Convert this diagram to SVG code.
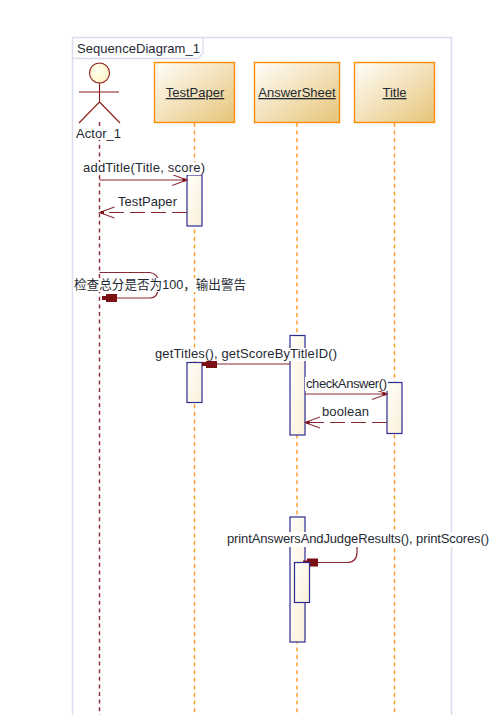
<svg xmlns="http://www.w3.org/2000/svg" width="503" height="715" viewBox="0 0 503 715">
<style>
text{font-family:"Liberation Sans","Noto Sans CJK SC",sans-serif;font-size:13px;fill:#1f2a33}
.obj{stroke:#ff8c00;stroke-width:1.4;fill:url(#objFill)}
.lbl{text-anchor:middle;text-decoration:underline}
.life{fill:none;stroke:#ff9a1f;stroke-width:1.4;stroke-dasharray:4 3.6}
.act{stroke:#2c2c96;stroke-width:1.2;fill:url(#actFill)}
.msg{fill:none;stroke:#8c2a33;stroke-width:1.2}
.ret{fill:none;stroke:#8c2a33;stroke-width:1.2;stroke-dasharray:15 6}
.actor{fill:none;stroke:#8b1a1a;stroke-width:1.1}
.bg{fill:#fff}
</style>
<defs>
<linearGradient id="objFill" x1="0" y1="0" x2="1" y2="1"><stop offset="0" stop-color="#fffefb"/><stop offset="1" stop-color="#e6c478"/></linearGradient>
<linearGradient id="actFill" x1="0" y1="0" x2="1" y2="1"><stop offset="0" stop-color="#fffefa"/><stop offset="1" stop-color="#fbf0d9"/></linearGradient>
<radialGradient id="headFill" cx="0.4" cy="0.35" r="0.7"><stop offset="0" stop-color="#fffff0"/><stop offset="1" stop-color="#fdf3c4"/></radialGradient>
<marker id="open" markerUnits="userSpaceOnUse" markerWidth="18" markerHeight="14" refX="15" refY="7" orient="auto"><path d="M0 1.500L15 7L0 12.500" fill="none" stroke="#8c2a33" stroke-width="1.1"/><rect x="10.500" y="5.500" width="3" height="3" fill="#7a0f14"/></marker>
<marker id="solid" markerUnits="userSpaceOnUse" markerWidth="16" markerHeight="10" refX="15" refY="5" orient="auto"><path d="M0 1H11V3H15V7H11V9H0Z" fill="#7a0f14"/></marker>
</defs>
<g id="frame">
<rect x="72.500" y="37.500" width="379" height="690" fill="#fff" stroke="#dcdcee" stroke-width="1.6"/>
<path d="M72.500 58.500H198L203 53.500V37.500" fill="none" stroke="#dcdcee" stroke-width="1.3"/>
<text x="77" y="53" textLength="123">SequenceDiagram_1</text>
</g>
<g id="lifelines">
<path class="life" style="stroke:#8c2a33" d="M99.500 122V715"/>
<path class="life" d="M194.500 123V715"/>
<path class="life" d="M297 123V715"/>
<path class="life" d="M394.500 123V715"/>
</g>
<g id="Actor_1">
<circle cx="99.500" cy="73" r="10" fill="url(#headFill)" stroke="#8b1a1a" stroke-width="1.1"/>
<path class="actor" d="M79 92H119M99.500 83V102L79 123M99.500 102L120 123"/>
<rect class="bg" x="76" y="127" width="46" height="13"/>
<text x="76" y="138" textLength="45">Actor_1</text>
</g>
<g id="TestPaper"><rect class="obj" x="154.500" y="62.500" width="80" height="60"/><text class="lbl" x="195" y="97">TestPaper</text></g>
<g id="AnswerSheet"><rect class="obj" x="254.500" y="62.500" width="85" height="60"/><text class="lbl" x="297" y="97">AnswerSheet</text></g>
<g id="Title"><rect class="obj" x="354.500" y="62.500" width="80" height="60"/><text class="lbl" x="394.500" y="97">Title</text></g>
<g id="activations">
<rect class="act" x="187" y="175" width="15" height="51"/>
<rect class="act" x="187" y="362.500" width="15" height="40"/>
<rect class="act" x="290" y="335.500" width="15" height="99.500"/>
<rect class="act" x="387" y="382.500" width="15" height="51"/>
<rect class="act" x="290" y="517" width="15" height="125"/>
</g>
<g id="connectors">
<path class="msg" marker-end="url(#open)" d="M99.500 180H187"/>
<path class="ret" marker-end="url(#open)" d="M187 212.500H99.500"/>
<path class="msg" marker-end="url(#solid)" d="M99.500 272.500H150Q158 274 158 281V288Q158 298 150 298H102"/>
<path class="msg" marker-end="url(#solid)" d="M290 364H202"/>
<path class="msg" marker-end="url(#open)" d="M305 394H387"/>
<path class="ret" marker-end="url(#open)" d="M387 422.500H305"/>
<path class="msg" marker-end="url(#solid)" d="M357 547V552Q357 562.500 347 562.500H303"/>
</g>
<g id="activation-nested">
<rect class="act" x="294.500" y="562.500" width="15" height="40"/>
</g>
<g id="labels">
<rect class="bg" x="82" y="162" width="124" height="13"/>
<text x="83" y="172" textLength="122">addTitle(Title, score)</text>
<rect class="bg" x="117" y="195" width="61" height="14"/>
<text x="118" y="206" textLength="59">TestPaper</text>
<rect class="bg" x="73" y="278" width="174" height="14"/>
<text x="74" y="289" style="font-size:12.6px">检查总分是否为100，输出警告</text>
<rect class="bg" x="154" y="348" width="184" height="13"/>
<text x="155" y="358" textLength="182">getTitles(), getScoreByTitleID()</text>
<rect class="bg" x="305" y="377" width="83" height="14"/>
<text x="306" y="388" textLength="81">checkAnswer()</text>
<rect class="bg" x="321" y="405" width="49" height="14"/>
<text x="322" y="416" textLength="47">boolean</text>
<rect class="bg" x="226" y="532" width="264" height="15"/>
<text x="227" y="543" textLength="262">printAnswersAndJudgeResults(), printScores()</text>
</g>
</svg>
